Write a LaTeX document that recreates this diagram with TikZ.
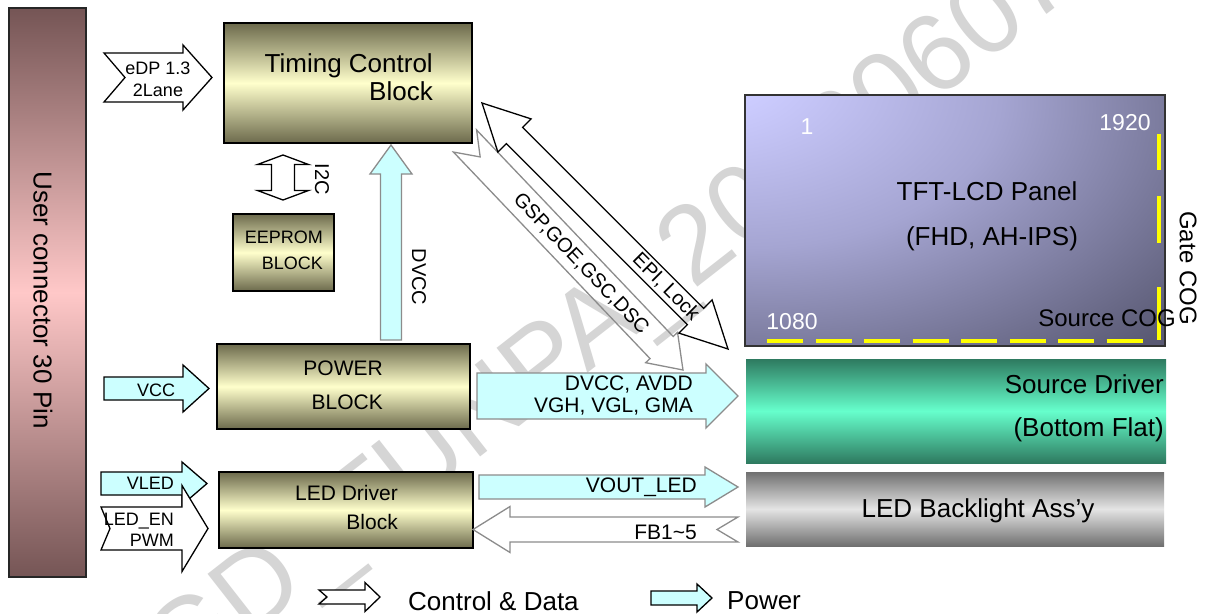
\documentclass[tikz,border=0pt]{standalone}
\usepackage{fontspec}
\setmainfont{Liberation Sans}
\usetikzlibrary{calc}
\definecolor{olv}{RGB}{108,106,76}
\definecolor{lyel}{RGB}{255,255,204}
\definecolor{cyanp}{RGB}{204,255,255}
\definecolor{pgray}{RGB}{140,140,140}
\definecolor{ucdark}{RGB}{117,85,85}
\definecolor{ucpink}{RGB}{255,200,200}
\definecolor{panlt}{RGB}{204,204,255}
\definecolor{panmid}{RGB}{165,165,210}
\definecolor{pandk}{RGB}{90,90,116}
\definecolor{sdk}{RGB}{46,122,96}
\definecolor{slt}{RGB}{102,255,204}
\definecolor{bldk}{RGB}{112,112,112}
\definecolor{bllt}{RGB}{228,228,228}
\definecolor{wmgray}{RGB}{213,213,213}
\definecolor{cogy}{RGB}{255,255,0}
\pgfdeclareradialshading{panelsh}{\pgfpoint{-32bp}{32bp}}{color(0bp)=(panlt); color(8bp)=(panlt); color(30bp)=(panmid); color(58bp)=(pandk); color(130bp)=(pandk)}
\newcommand\fsz[2]{\fontsize{#1}{#2}\selectfont}
% block arrow: [style]{tail}{tip}{shaft half}{head half}{head length}{notch}
\newcommand\blkarrow[7][]{%
  \draw[#1] let \p1=(#2), \p2=(#3),
    \n1={atan2(\y2-\y1,\x2-\x1)}, \n2={veclen(\x2-\x1,\y2-\y1)} in
    [shift={(\p1)}, rotate=\n1]
    (0pt,#4pt) -- ({\n2-#6pt},#4pt) -- ({\n2-#6pt},#5pt) -- ({\n2+0pt},0pt)
    -- ({\n2-#6pt},-#5pt) -- ({\n2-#6pt},-#4pt) -- (0pt,-#4pt) -- (#7pt,0pt) -- cycle;}
% double arrow: [style]{end a}{end b}{shaft half}{head half}{head length}
\newcommand\dblarrow[6][]{%
  \draw[#1] let \p1=(#2), \p2=(#3),
    \n1={atan2(\y2-\y1,\x2-\x1)}, \n2={veclen(\x2-\x1,\y2-\y1)} in
    [shift={(\p1)}, rotate=\n1]
    (0pt,0pt) -- (#6pt,#5pt) -- (#6pt,#4pt) -- ({\n2-#6pt},#4pt) -- ({\n2-#6pt},#5pt) -- ({\n2+0pt},0pt)
    -- ({\n2-#6pt},-#5pt) -- ({\n2-#6pt},-#4pt) -- (#6pt,-#4pt) -- (#6pt,-#5pt) -- cycle;}
\tikzset{
  blk/.style={draw=black, line width=1.8pt, top color=olv, bottom color=olv, middle color=lyel, inner sep=0pt},
  ctrl/.style={draw=black, line width=1.3pt, fill=white, line join=miter},
  ctrlo/.style={draw=black, line width=1.3pt, line join=miter},
  ctrlg/.style={draw=pgray, line width=1.3pt, fill=white, line join=miter},
  ctrlgo/.style={draw=pgray, line width=1.3pt, line join=miter},
  pwr/.style={draw=pgray, line width=1.3pt, fill=cyanp, line join=miter},
  pwrb/.style={draw=black, line width=1.3pt, fill=cyanp, line join=miter},
  txt/.style={inner sep=0pt, align=center},
  cogline/.style={draw=cogy, line width=3.3pt}
}
\begin{document}
\begin{tikzpicture}[x=1pt,y=-1pt]
\useasboundingbox (0,0) rectangle (1209,613);
\fill[white] (0,0) rectangle (1209,613);
% watermark
\begin{scope}
\clip (0,0) rectangle (1209,613);
\node[anchor=base west, rotate=38, text=wmgray, inner sep=0pt, font=\fsz{110}{110}] (wm) at (180,692) {GD\_TUNPA\_20160607};
\end{scope}
% blocks
\node[draw=black!85, line width=1.5pt, top color=ucdark, bottom color=ucdark, middle color=ucpink, minimum width=77pt, minimum height=569pt, inner sep=0pt] (user) at (47.5,292.5) {};
\node[blk, minimum width=248pt, minimum height=120pt] (tcon) at (348,83) {};
\node[blk, minimum width=101pt, minimum height=77pt] (eeprom) at (283.5,252.5) {};
\node[blk, minimum width=253pt, minimum height=85pt] (power) at (343.5,386.5) {};
\node[blk, minimum width=254pt, minimum height=76pt] (leddrv) at (346,510) {};
\node[draw=black!80, line width=1.5pt, shading=panelsh, minimum width=420pt, minimum height=251pt, inner sep=0pt] (panel) at (955,220.5) {};
\node[top color=sdk, bottom color=sdk, middle color=slt, minimum width=420pt, minimum height=104pt, inner sep=0pt] (srcdrv) at (956,411) {};
\node[top color=bldk, bottom color=bldk, middle color=bllt, minimum width=418pt, minimum height=74pt, inner sep=0pt] (backlight) at (955,509) {};
% COG dashed lines
\draw[cogline, dash pattern=on 36pt off 12.5pt] (767,341) coordinate (scogA) -- (1143,341) coordinate (scogB);
\draw[cogline] (1159,134) coordinate (g1a) -- (1159,170) coordinate (g1b);
\draw[cogline] (1159,196) coordinate (g2a) -- (1159,243) coordinate (g2b);
\draw[cogline] (1159,287) coordinate (g3a) -- (1159,340) coordinate (g3b);
% arrow end points
\coordinate (edpA) at (104,77.5); \coordinate (edpB) at (212,77.5);
\coordinate (i2cA) at (283,155); \coordinate (i2cB) at (283,200);
\coordinate (dvA) at (391,340); \coordinate (dvB) at (391,145);
\coordinate (vccA) at (104,388.5); \coordinate (vccB) at (209,388.5);
\coordinate (pwA) at (477,396); \coordinate (pwB) at (738,396);
\coordinate (vledA) at (101,483.5); \coordinate (vledB) at (207,483.5);
\coordinate (lenA) at (101,528.5); \coordinate (lenB) at (208,528.5);
\coordinate (voA) at (479,487); \coordinate (voB) at (738,487);
\coordinate (fbA) at (738,529.5); \coordinate (fbB) at (473,529.5);
\coordinate (gspA) at (465,141); \coordinate (gspB) at (683,370);
\coordinate (epiA) at (482,103); \coordinate (epiB) at (728,349);
\coordinate (lgcA) at (319,597); \coordinate (lgcB) at (380,597);
\coordinate (lgpA) at (651,598); \coordinate (lgpB) at (712,598);
% arrows
\blkarrow[ctrl]{edpA}{edpB}{24.5}{32.5}{29}{21}
\dblarrow[ctrl]{i2cA}{i2cB}{11.5}{25.5}{9.5}
\blkarrow[pwr]{dvA}{dvB}{10.5}{21}{29}{0}
\blkarrow[pwrb]{vccA}{vccB}{11.5}{23.5}{26}{0}
\blkarrow[pwr]{pwA}{pwB}{23}{32}{32}{0}
\blkarrow[pwrb]{vledA}{vledB}{11.5}{21.5}{25}{0}
\blkarrow[ctrl]{lenA}{lenB}{21.5}{43}{26}{9}
\blkarrow[pwr]{voA}{voB}{12}{20}{33}{0}
\blkarrow[ctrlg]{fbA}{fbB}{12.5}{23}{37}{21}
\blkarrow[ctrlgo]{gspA}{gspB}{16}{22}{31}{22}
\dblarrow[ctrlo]{epiA}{epiB}{11.5}{23.5}{46}
\blkarrow[ctrl]{lgcA}{lgcB}{7}{14.5}{15}{8}
\blkarrow[pwrb]{lgpA}{lgpB}{7}{14}{15}{0}
% texts
\node[txt, rotate=-90, font=\fsz{26}{30}] (usertxt) at (43,300) {User connector 30 Pin};
\node[txt, font=\fsz{18}{22}] (edptxt) at (158,79) {eDP 1.3\\2Lane};
\node[txt, align=right, anchor=east, font=\fsz{26}{28}] (tcontxt) at (433,77) {Timing Control\\Block};
\node[txt, rotate=-90, font=\fsz{20}{24}] (i2ctxt) at (322,179) {I2C};
\node[txt, align=right, anchor=east, font=\fsz{18}{26}] (eeptxt) at (323,250) {EEPROM\\BLOCK};
\node[txt, rotate=-90, font=\fsz{20}{24}] (dvtxt) at (419,277) {DVCC};
\node[txt, align=right, anchor=east, font=\fsz{21}{34}] (powtxt) at (383,385) {POWER\\BLOCK};
\node[txt, font=\fsz{18}{22}] (vcctxt) at (156,390) {VCC};
\node[txt, align=right, anchor=east, font=\fsz{21}{22}] (pwtxt) at (693,396) {DVCC, AVDD\\VGH, VGL, GMA};
\node[txt, align=right, anchor=east, font=\fsz{21}{29}] (ledtxt) at (398,507.5) {LED Driver\\Block};
\node[txt, anchor=east, font=\fsz{18}{22}] (vledtxt) at (174,483) {VLED};
\node[txt, align=right, anchor=east, font=\fsz{18}{21}] (lentxt) at (174,529.5) {LED\_EN\\PWM};
\node[txt, anchor=east, font=\fsz{21}{24}] (votxt) at (697,487) {VOUT\_LED};
\node[txt, anchor=east, font=\fsz{21}{24}] (fbtxt) at (697,532) {FB1\textasciitilde 5};
\node[txt, rotate=-45, font=\fsz{20}{24}] (epitxt) at (666,287) {EPI, Lock};
\node[txt, rotate=-46.4, font=\fsz{20}{24}] (gsptxt) at (581,264) {GSP,GOE,GSC,DSC};
\node[txt, text=white, font=\fsz{23}{26}] (p1) at (807,127) {1};
\node[txt, text=white, font=\fsz{23}{26}] (p1920) at (1125,123) {1920};
\node[txt, text=white, font=\fsz{23}{26}] (p1080) at (792,322) {1080};
\node[txt, font=\fsz{26}{30}] (paneltxt) at (987,191) {TFT-LCD Panel};
\node[txt, font=\fsz{26}{30}] (paneltxt2) at (992,239) {(FHD, AH-IPS)};
\node[txt, font=\fsz{24}{28}] (scog) at (1107,318) {Source COG};
\node[txt, rotate=-90, font=\fsz{24}{28}] (gcog) at (1188,268) {Gate COG};
\node[txt, align=right, anchor=east, font=\fsz{26}{43}] (srctxt) at (1164,408.5) {Source Driver\\(Bottom Flat)};
\node[txt, font=\fsz{26}{30}] (bltxt) at (978,511) {LED Backlight Ass’y};
\node[txt, anchor=west, font=\fsz{26}{30}] (lgctxt) at (408,601) {Control \& Data};
\node[txt, anchor=west, font=\fsz{26}{30}] (lgptxt) at (727,601) {Power};
\end{tikzpicture}
\end{document}
